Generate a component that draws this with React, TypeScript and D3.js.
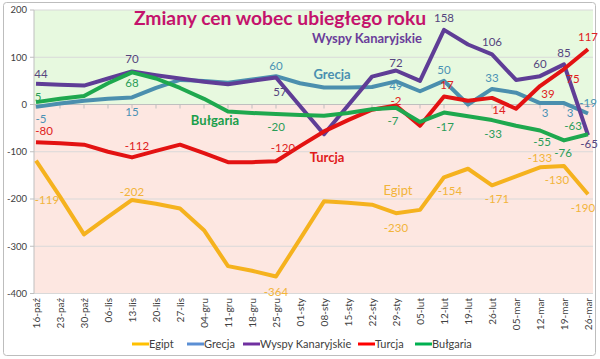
import React from "react";
import * as d3 from "d3";

const categories = ["16-paź","23-paź","30-paź","06-lis","13-lis","20-lis","27-lis","04-gru","11-gru","18-gru","25-gru","01-sty","08-sty","15-sty","22-sty","29-sty","05-lut","12-lut","19-lut","26-lut","05-mar","12-mar","19-mar","26-mar"];

const egipt = [-119,-195,-275,-238,-202,-210,-220,-266,-342,-352,-364,-285,-205,-208,-212,-230,-223,-154,-136,-171,-152,-133,-130,-190];
const grecja = [-5,2,8,12,15,35,52,50,46,53,60,45,36,36,37,49,28,50,0,33,25,3,3,-19];
const wyspy = [44,42,40,55,70,62,55,48,43,50,57,-3,-63,-2,59,72,50,158,127,106,52,60,85,-65];
const turcja = [-80,-82,-85,-100,-112,-98,-85,-103,-122,-122,-120,-88,-57,-33,-11,-2,-45,17,8,14,-9,39,75,117];
const bulgaria = [5,12,18,45,68,55,35,12,-15,-18,-20,-22,-24,-18,-10,-7,-37,-17,-25,-33,-45,-55,-76,-63];

const seriesNames = ["Egipt","Grecja","Wyspy Kanaryjskie","Turcja","Bułgaria"];
const yTicks = [200,100,0,-100,-200,-300,-400];
const titleText = "Zmiany cen wobec ubiegłego roku";

// styles
const lineColors = ["#f5b21e","#4b8fae","#5f3d96","#e31212","#1ea84e"];
const labelColors = ["#f2b43a","#4a92b5","#55457e","#e02020","#2a9d58"];
const tagColors = ["#f2b43a","#4a8fb0","#6a3d9a","#e01b1b","#1a9e4a"];
const legendColors = ["#ffc000","#5b8fd4","#7030a0","#ff0000","#00b050"];

// label placements [index, dx, dy] per series (style/position, not data)
const labelPlacements: number[][][] = [
  [[0,11,39],[4,0,-8],[10,0,15],[15,0,15],[17,6,14],[19,5,14],[21,0,-9],[22,-7,14],[23,-5,14]],
  [[0,5,12],[4,0,15],[10,0,-10],[15,0,5],[17,0,-11],[19,0,-11],[21,5,10],[22,6,10],[23,0,-11]],
  [[0,5,-10],[4,0,-12],[10,4,14],[15,0,-8],[17,0,-12],[19,0,-12],[21,0,-12],[22,0,-11],[23,1,9]],
  [[0,8,-11],[4,5,-11],[10,7,-13],[15,0,-4],[17,3,-11],[19,7,12],[21,8,8],[22,9,10],[23,0,-12]],
  [[0,2,-5],[4,0,11],[10,0,13],[15,-3,13],[17,1,14],[19,1,14],[21,2,11],[22,-1,13],[23,-15,-8]],
];

const seriesTags = [
  { text: "Egipt", x: 398, y: 190, bold: false },
  { text: "Grecja", x: 332, y: 74, bold: true },
  { text: "Wyspy Kanaryjskie", x: 367, y: 38, bold: true },
  { text: "Turcja", x: 327, y: 157, bold: true },
  { text: "Bułgaria", x: 215, y: 120, bold: true },
];

const legendLineX = [132, 187, 243, 358, 415];

export default function App() {
  const W = 600, H = 359;
  const x = d3.scalePoint<string>().domain(categories).range([36, 588]);
  const y = d3.scaleLinear().domain([-400, 200]).range([293.5, 10]);
  const allSeries = [egipt, grecja, wyspy, turcja, bulgaria];
  const line = d3.line<number>().x((_, i) => x(categories[i]) as number).y((d) => y(d));
  const font = "Lato, 'Open Sans', sans-serif";
  const left = 34, right = 593;

  return (
    <svg width={W} height={H} style={{ position: "absolute", left: 0, top: 0 }} fontFamily={font}>
      <rect x={0} y={0} width={W} height={H} fill="#fff" />
      <rect x={3.5} y={2.5} width={592} height={353} fill="#fff" stroke="#bdbdbd" rx={3} />
      {/* backgrounds */}
      <rect x={left} y={y(200)} width={right - left} height={y(0) - y(200)} fill="#e7f9df" />
      <rect x={left} y={y(0)} width={right - left} height={y(-400) - y(0)} fill="#fde7e1" />
      {yTicks.map((t) => (
        <line key={t} x1={left} x2={right} y1={y(t)} y2={y(t)} stroke="#d9d9d9" strokeWidth={1} />
      ))}
      <line x1={left} x2={left} y1={y(200)} y2={y(-400)} stroke="#bfbfbf" />
      {yTicks.map((t) => (
        <g key={t}>
          <line x1={left - 4} x2={left} y1={y(t)} y2={y(t)} stroke="#bfbfbf" />
          <text x={27} y={y(t)} dy="0.35em" textAnchor="end" fontSize={9.5} fill="#404040">{t}</text>
        </g>
      ))}
      {/* zero axis */}
      <line x1={left} x2={right} y1={y(0)} y2={y(0)} stroke="#bfbfbf" />
      {categories.map((c) => (
        <line key={c} x1={x(c) as number} x2={x(c) as number} y1={y(0)} y2={y(0) + 4} stroke="#bfbfbf" />
      ))}
      {/* x labels */}
      {categories.map((c) => (
        <text key={c} transform={`translate(${(x(c) as number) + 3.5},298) rotate(-90)`} textAnchor="end" fontSize={10} fill="#404040">{c}</text>
      ))}
      {/* lines */}
      {allSeries.map((s, si) => (
        <path key={si} d={line(s) || ""} fill="none" stroke={lineColors[si]} strokeWidth={4} strokeLinejoin="round" />
      ))}
      {/* value labels */}
      {allSeries.map((s, si) =>
        labelPlacements[si].map(([i, dx, dy]) => (
          <text key={si + "-" + i} x={(x(categories[i]) as number) + dx} y={y(s[i]) + dy} dy="0.35em" textAnchor="middle" fontSize={11.5} fill={labelColors[si]}>{s[i]}</text>
        ))
      )}
      {/* series tags */}
      {seriesTags.map((t, si) => (
        <text key={t.text} x={t.x} y={t.y} dy="0.35em" textAnchor="middle" fontSize={13} fontWeight={t.bold ? 700 : 400} fill={tagColors[si]}>{t.text}</text>
      ))}
      {/* title */}
      <text x={280} y={25} textAnchor="middle" fontSize={19.3} fontWeight={700} fill="#c4136c">{titleText}</text>
      {/* legend */}
      {seriesNames.map((n, i) => (
        <g key={n}>
          <line x1={legendLineX[i]} x2={legendLineX[i] + 17} y1={344} y2={344} stroke={legendColors[i]} strokeWidth={3} />
          <text x={legendLineX[i] + 17} y={344} dy="0.35em" fontSize={11} fill="#404040">{n}</text>
        </g>
      ))}
    </svg>
  );
}
